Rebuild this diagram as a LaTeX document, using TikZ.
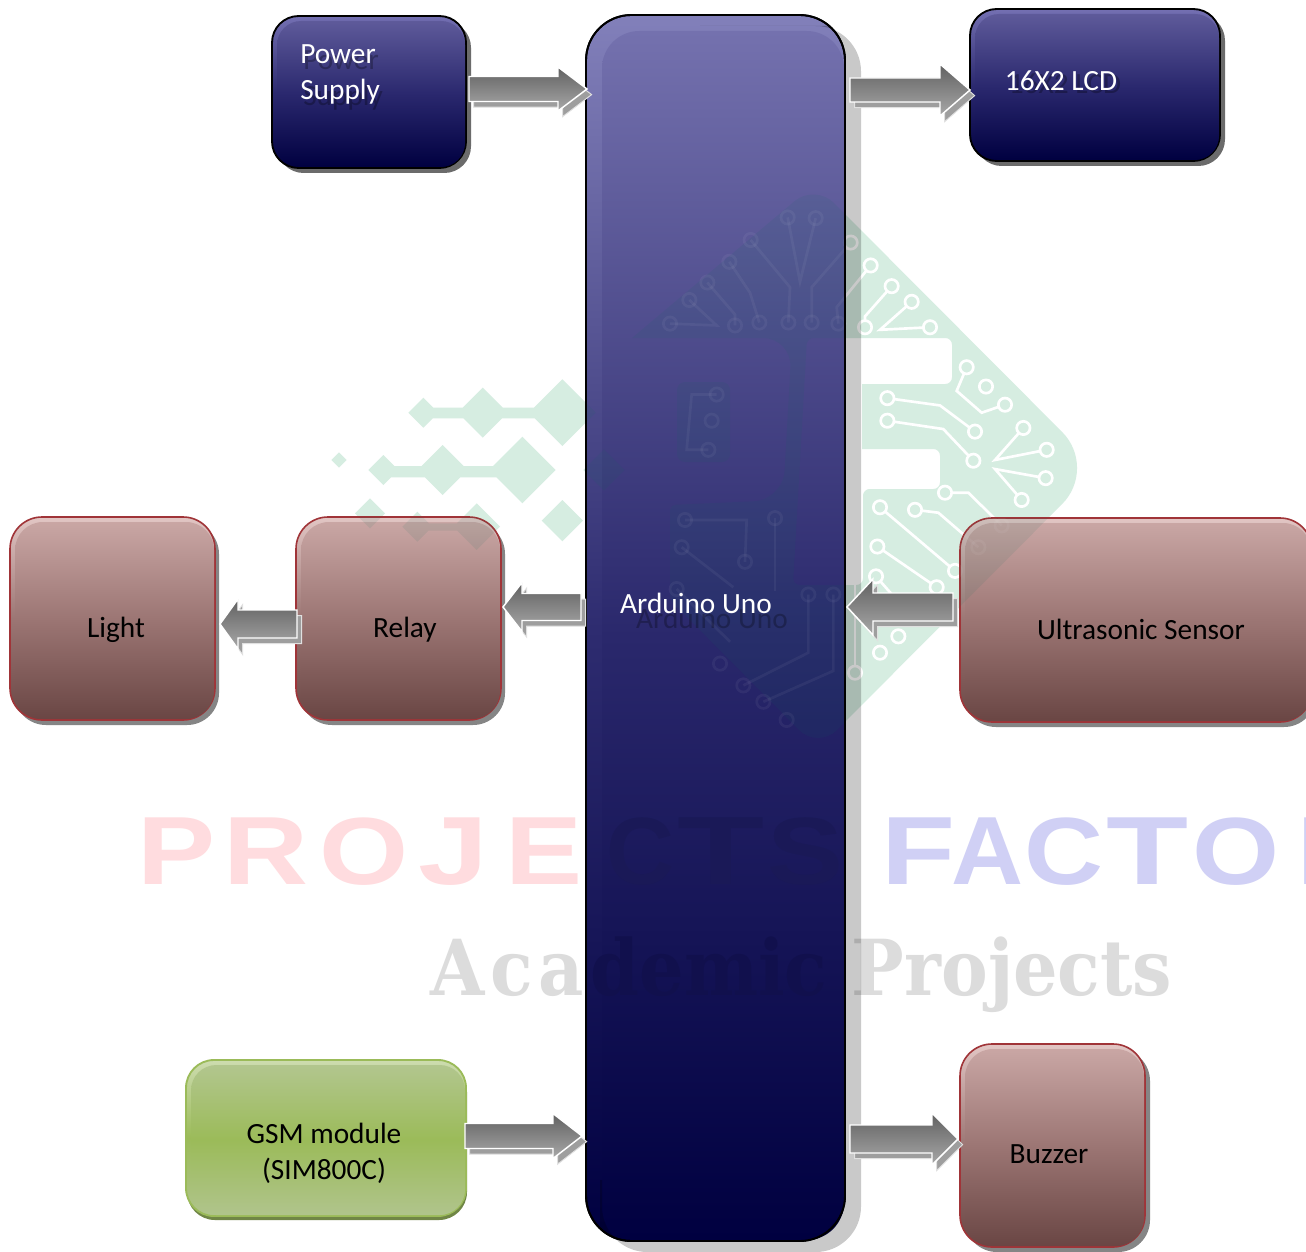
\documentclass[tikz,border=0pt]{standalone}
\usepackage{fontspec}
\usepackage{graphicx}
\usetikzlibrary{calc}
\setmainfont{Carlito}
\newfontfamily\markfont{Liberation Sans}
\newfontfamily\acadfont{DejaVu Serif}
\newlength\pxu \pxu=.75pt
\definecolor{wmgreen}{RGB}{214,237,225}
\definecolor{wmover}{RGB}{10,110,90}
\definecolor{pinkmark}{RGB}{255,220,223}
\definecolor{bluemark}{RGB}{208,208,245}
\definecolor{greymark}{RGB}{220,220,220}
\definecolor{ctsdark}{RGB}{26,25,87}
\definecolor{demicdark}{RGB}{17,16,77}
\tikzset{
  navy shadow/.style={fill=black!58,rounded corners=20pt},
  navy box/.style={draw=black,line width=1.4pt,rounded corners=20pt,top color={rgb,255:red,116;green,112;blue,178},bottom color={rgb,255:red,0;green,0;blue,64},middle color={rgb,255:red,44;green,42;blue,112}},
  navy inner/.style={rounded corners=18pt,top color={rgb,255:red,94;green,90;blue,154},bottom color={rgb,255:red,0;green,0;blue,64},middle color={rgb,255:red,42;green,40;blue,110}},
  ard shadow/.style={fill=none},
  ard box/.style={draw=black,line width=1.4pt,rounded corners=34pt,top color={rgb,255:red,130;green,128;blue,186},bottom color={rgb,255:red,0;green,0;blue,64},middle color={rgb,255:red,46;green,44;blue,112}},
  ard inner/.style={rounded corners=28pt,top color={rgb,255:red,116;green,113;blue,174},bottom color={rgb,255:red,0;green,0;blue,64},middle color={rgb,255:red,42;green,40;blue,108}},
  brown shadow/.style={fill=black!48,rounded corners=24pt},
  brown box/.style={draw={rgb,255:red,160;green,52;blue,56},line width=1.2pt,rounded corners=24pt,top color={rgb,255:red,226;green,198;blue,196},bottom color={rgb,255:red,106;green,70;blue,68},middle color={rgb,255:red,156;green,118;blue,116}},
  brown inner/.style={rounded corners=21pt,top color={rgb,255:red,201;green,166;blue,164},bottom color={rgb,255:red,106;green,70;blue,68},middle color={rgb,255:red,155;green,117;blue,115}},
  green shadow/.style={fill={rgb,255:red,112;green,134;blue,70},rounded corners=21pt},
  green box/.style={draw={rgb,255:red,155;green,187;blue,89},line width=1.4pt,rounded corners=21pt,top color={rgb,255:red,205;green,220;blue,175},bottom color={rgb,255:red,176;green,196;blue,140},middle color={rgb,255:red,155;green,187;blue,89}},
  green inner/.style={rounded corners=19pt,top color={rgb,255:red,178;green,198;blue,142},bottom color={rgb,255:red,176;green,196;blue,140},middle color={rgb,255:red,155;green,187;blue,89}},
  boxlabel/.style={inner sep=0pt,font=\fontsize{22}{27}\selectfont},
  arrowbody/.style={draw=white,line width=1.1pt,top color=black!62,bottom color=black!34},
  arrowdrop/.style={fill=black!38,draw=black!12,line width=.7pt,transform canvas={xshift=3.5pt,yshift=-4.2pt}},
  markword/.style={inner sep=0pt,anchor=base west},
}
\newcommand\panel[9]{%
  \path[#6 shadow] ({#2+#7},{#3+#8}) rectangle ({#4+#7},{#5+#8});
  \node[#6 box,inner sep=0pt,outer sep=0pt,minimum width={(#4-#2)*0.75pt},minimum height={(#5-#3)*0.75pt}] (#1) at ({(#2+#4)/2},{(#3+#5)/2}) {};
  \path[#6 inner] ({#2+#9},{#3+#9}) rectangle ({#4-1},{#5-1});
}
\newcommand\arrowshape[6]{%
  ($(#1)+(0,-#4)$) -- ($(#2)+({-#3*#6},-#4)$) -- ($(#2)+({-#3*#6},-#5)$) -- (#2) -- ($(#2)+({-#3*#6},#5)$) -- ($(#2)+({-#3*#6},#4)$) -- ($(#1)+(0,#4)$) -- cycle
}
\newcommand\blockarrow[6]{%
  \path[arrowdrop] \arrowshape{#1}{#2}{#3}{#4}{#5}{#6};
  \path[arrowbody] \arrowshape{#1}{#2}{#3}{#4}{#5}{#6};
}
\newcommand\dm[3]{({#1-#3},#2) -- (#1,{#2-#3}) -- ({#1+#3},#2) -- (#1,{#2+#3}) -- cycle}
\newcommand\bandrect[4]{(#1,#2) -- (#3,#2) -- (#3,#4) -- (#1,#4) -- cycle}
% #1 fill options, #2 trace options, #3 pad options
\newcommand\wmark[3]{%
  \begin{scope}[shift={(320,370)},x=.25pt,y=-.25pt]
    \fill[#1] \dm{310}{128}{45} \dm{488}{128}{75} \dm{727}{128}{100} \bandrect{310}{113}{727}{145}
      \dm{190}{300}{45} \dm{368}{300}{75} \dm{607}{300}{100} \bandrect{190}{288}{607}{322}
      \dm{57}{270}{23} \dm{852}{300}{62} \dm{150}{430}{45} \dm{292}{470}{45} \dm{470}{470}{70} \dm{727}{452}{62}
      \bandrect{292}{460}{470}{482};
  \end{scope}
  \fill[#1,even odd rule] (632,338) [rounded corners=20pt] -- (815,184) [rounded corners=38pt] -- (1098,468) [rounded corners=20pt] -- (818,749) [rounded corners=4pt] -- (670,600) -- (670,505) [rounded corners=22pt] -- (783,500) -- (792,338) [sharp corners] -- cycle
    (807,338) [rounded corners=5pt] -- (952,338) -- (952,384) [sharp corners] -- (862,384) -- (862,449) [rounded corners=5pt] -- (940,449) -- (940,489) -- (863,489) -- (863,585) -- (793,585) -- cycle;
  \fill[#1,rounded corners=6pt] (677,382) rectangle (730,462);
  \begin{scope}[shift={(620,180)},x=.25pt,y=-.2727pt]
    \draw[#2] (150,395) -- (290,400) -- (208,330);
    \draw[#2] (262,282) -- (345,370) -- (345,400);
    \draw[#2] (328,225) -- (390,310) -- (418,392);
    \draw[#2] (392,165) -- (510,295) -- (505,392);
    \draw[#2] (503,103) -- (540,280) -- (587,105);
    \draw[#2] (692,172) -- (575,295) -- (575,392);
    \draw[#2] (752,235) -- (650,350) -- (655,395);
    \draw[#2] (815,292) -- (735,375) -- (735,405);
    \draw[#2] (875,335) -- (780,412) -- (930,405);
    \draw[#2] (1040,515) -- (1010,580) -- (1085,640) -- (1155,618);
    \draw[#2] (1210,682) -- (1125,770) -- (1280,742);
    \draw[#2] (1277,820) -- (1125,795) -- (1205,880);
    \draw[#2] (802,600) -- (960,620) -- (1065,692);
    \draw[#2] (802,662) -- (970,685) -- (1060,772);
    \draw[#2] (975,860) -- (1045,860) -- (1145,950);
    \draw[#2] (885,907) -- (955,915) -- (1075,1010);
    \draw[#2] (780,900) -- (1005,1075);
    \draw[#2] (772,1008) -- (950,1120);
    \draw[#2] (768,1090) -- (835,1160);
    \draw[#2] (290,590) -- (215,590) -- (200,742) -- (265,742);
    \draw[#2] (195,935) -- (380,935) -- (375,1050);
    \draw[#2] (465,930) -- (465,1130);
    \draw[#2] (185,1010) -- (340,1120);
    \draw[#2] (170,1125) -- (330,1270);
    \draw[#2] (565,1140) -- (565,1300) -- (370,1390);
    \draw[#2] (640,1140) -- (640,1350) -- (430,1435);
    \draw[#2] (705,1100) -- (705,1355);
    \foreach \p in {(150,395),(345,400),(418,392),(505,392),(575,392),(655,395),(735,405),(930,405),
      (208,330),(262,282),(328,225),(392,165),(503,103),(587,105),(692,172),(752,235),(815,292),(875,335),
      (1040,515),(1098,568),(1155,618),(1210,682),(1280,742),(1277,820),(1205,880),
      (802,600),(1065,692),(802,662),(1060,772),(975,860),(1145,950),(885,907),(1075,1010),
      (780,900),(1005,1075),(772,1008),(950,1120),(768,1090),(835,1255),(780,1300),(705,1355),
      (290,590),(275,662),(265,742),(195,935),(375,1050),(465,930),(185,1010),(170,1125),(565,1140),(640,1140),
      (370,1390),(430,1435),(300,1330),(500,1485)}
      {\draw[#3] \p circle (5pt);}
  \end{scope}
}
\newcommand\lt[3]{\resizebox{\numexpr#1+8\relax\pxu}{50pt}{#3}\hspace{\numexpr#2-8\relax\pxu}}
\begin{document}
\begin{tikzpicture}[x=.75pt,y=-.75pt]
\useasboundingbox (0,0) rectangle (1306,1252);
\fill[white] (0,0) rectangle (1306,1252);
% watermark on the page
\wmark{fill=wmgreen}{draw=white,line width=2pt}{draw=white,line width=2pt,fill=wmgreen}
% panels
\panel{ard}{586}{15}{845}{1241}{ard}{16}{11}{16}
\panel{psu}{272}{16}{466}{168}{navy}{5}{5}{5}
\panel{lcd}{970}{9}{1220}{161}{navy}{5}{5}{5}
\panel{light}{10}{517}{215}{720}{brown}{4}{5}{5}
\panel{relay}{296}{517}{501}{720}{brown}{4}{5}{5}
\panel{sonic}{960}{518}{1312}{722}{brown}{4}{5}{5}
\panel{buzzer}{960}{1044}{1145}{1247}{brown}{5}{5}{5}
\panel{gsm}{186}{1060}{466}{1216}{green}{1}{4}{5}
% the watermark shows through the panels
\begin{scope}
  \clip (586,15) rectangle (845,1241) [rounded corners=24pt] (296,517) rectangle (501,720) (960,518) rectangle (1320,722);
  \wmark{fill=wmover,fill opacity=.09}{draw=white,draw opacity=.05,line width=2pt}{draw=white,draw opacity=.05,line width=2pt}
\end{scope}
% lettering
\node[markword,text=pinkmark] (projects) at (137,884) {\markfont\bfseries\lt{70}{16}{P}\lt{77}{19}{R}\lt{81}{18}{O}\lt{62}{25}{J}\lt{69}{32}{E}\color{ctsdark}\lt{60}{11}{C}\lt{79}{11}{T}\lt{68}{0}{S}};
\node[markword,text=bluemark] (factory) at (881,884) {\markfont\bfseries\lt{66}{4}{F}\lt{64}{9}{A}\lt{71}{11}{C}\lt{74}{12}{T}\lt{79}{25}{O}\lt{80}{0}{R}};
\node[markword,text=greymark] (academic) at (430,995) {\acadfont\bfseries\resizebox{742\pxu}{44pt}{A\kern.8pt c\kern.8pt a\kern1pt\textcolor{demicdark}{demic} Projects}};
% grey band of the large panel, laid over the lettering
\begin{scope}
  \clip (700,26) rectangle (1306,1252) (600,1180) rectangle (1306,1252);
  \fill[black,fill opacity=.21,even odd rule,rounded corners=34pt] (602,26) rectangle (861,1252) (586,15) rectangle (845,1241);
\end{scope}
\draw[black,line width=1.4pt,rounded corners=34pt] (586,15) rectangle (845,1241);
% arrows
\coordinate (a1s) at ($(psu.east)+(3,-3)$);
\coordinate (a1e) at ($(ard.west |- a1s)+(1,0)$);
\blockarrow{a1s}{a1e}{1}{12.5}{22}{29}
\coordinate (a2e) at ($(lcd.west)+(0,5)$);
\coordinate (a2s) at ($(ard.east |- a2e)+(5,0)$);
\blockarrow{a2s}{a2e}{1}{12}{26}{30}
\coordinate (a3s) at ($(gsm.east)+(-1,-2)$);
\coordinate (a3e) at ($(ard.west |- a3s)+(-4,0)$);
\blockarrow{a3s}{a3e}{1}{12.5}{22.5}{29}
\coordinate (a4e) at ($(buzzer.west)+(-2,-6.5)$);
\coordinate (a4s) at ($(ard.east |- a4e)+(5,0)$);
\blockarrow{a4s}{a4e}{1}{14}{26}{26}
\coordinate (a5e) at ($(relay.east)+(2,-11.5)$);
\coordinate (a5s) at ($(ard.west |- a5e)+(-5,0)$);
\blockarrow{a5s}{a5e}{-1}{13.5}{24.5}{19}
\coordinate (a6e) at ($(light.east)+(5,5.5)$);
\coordinate (a6s) at ($(relay.west |- a6e)+(1,0)$);
\blockarrow{a6s}{a6e}{-1}{14}{25}{18}
\coordinate (a7s) at ($(sonic.west)+(-7,-13)$);
\coordinate (a7e) at ($(ard.east |- a7s)+(2,0)$);
\blockarrow{a7s}{a7e}{-1}{14}{28}{26}
% labels
\node[boxlabel,text=black,text opacity=.26,anchor=base] (ardshade) at (712,628) {Arduino Uno};
\node[boxlabel,text=white,anchor=base] (ardtext) at (696,613) {Arduino Uno};
\node[boxlabel,text=black,text opacity=.28,anchor=west,align=left] (psushade) at (303,80) {Power\\Supply};
\node[boxlabel,text=white,anchor=west,align=left] (psutext) at (300,74) {Power\\Supply};
\node[boxlabel,text=black,text opacity=.28,anchor=base] (lcdshade) at (1065,94) {16X2 LCD};
\node[boxlabel,text=white,anchor=base] (lcdtext) at (1061,91) {16X2 LCD};
\node[boxlabel,text=black,anchor=base] (lighttext) at (116,637) {Light};
\node[boxlabel,text=black,anchor=base] (relaytext) at (405,637) {Relay};
\node[boxlabel,text=black,anchor=base] (sonictext) at (1141,639) {Ultrasonic Sensor};
\node[boxlabel,text=black,anchor=base] (buzzertext) at (1049,1163) {Buzzer};
\node[boxlabel,text=black,align=center] (gsmtext) at (324,1153) {GSM module\\(SIM800C)};
\end{tikzpicture}
\end{document}
